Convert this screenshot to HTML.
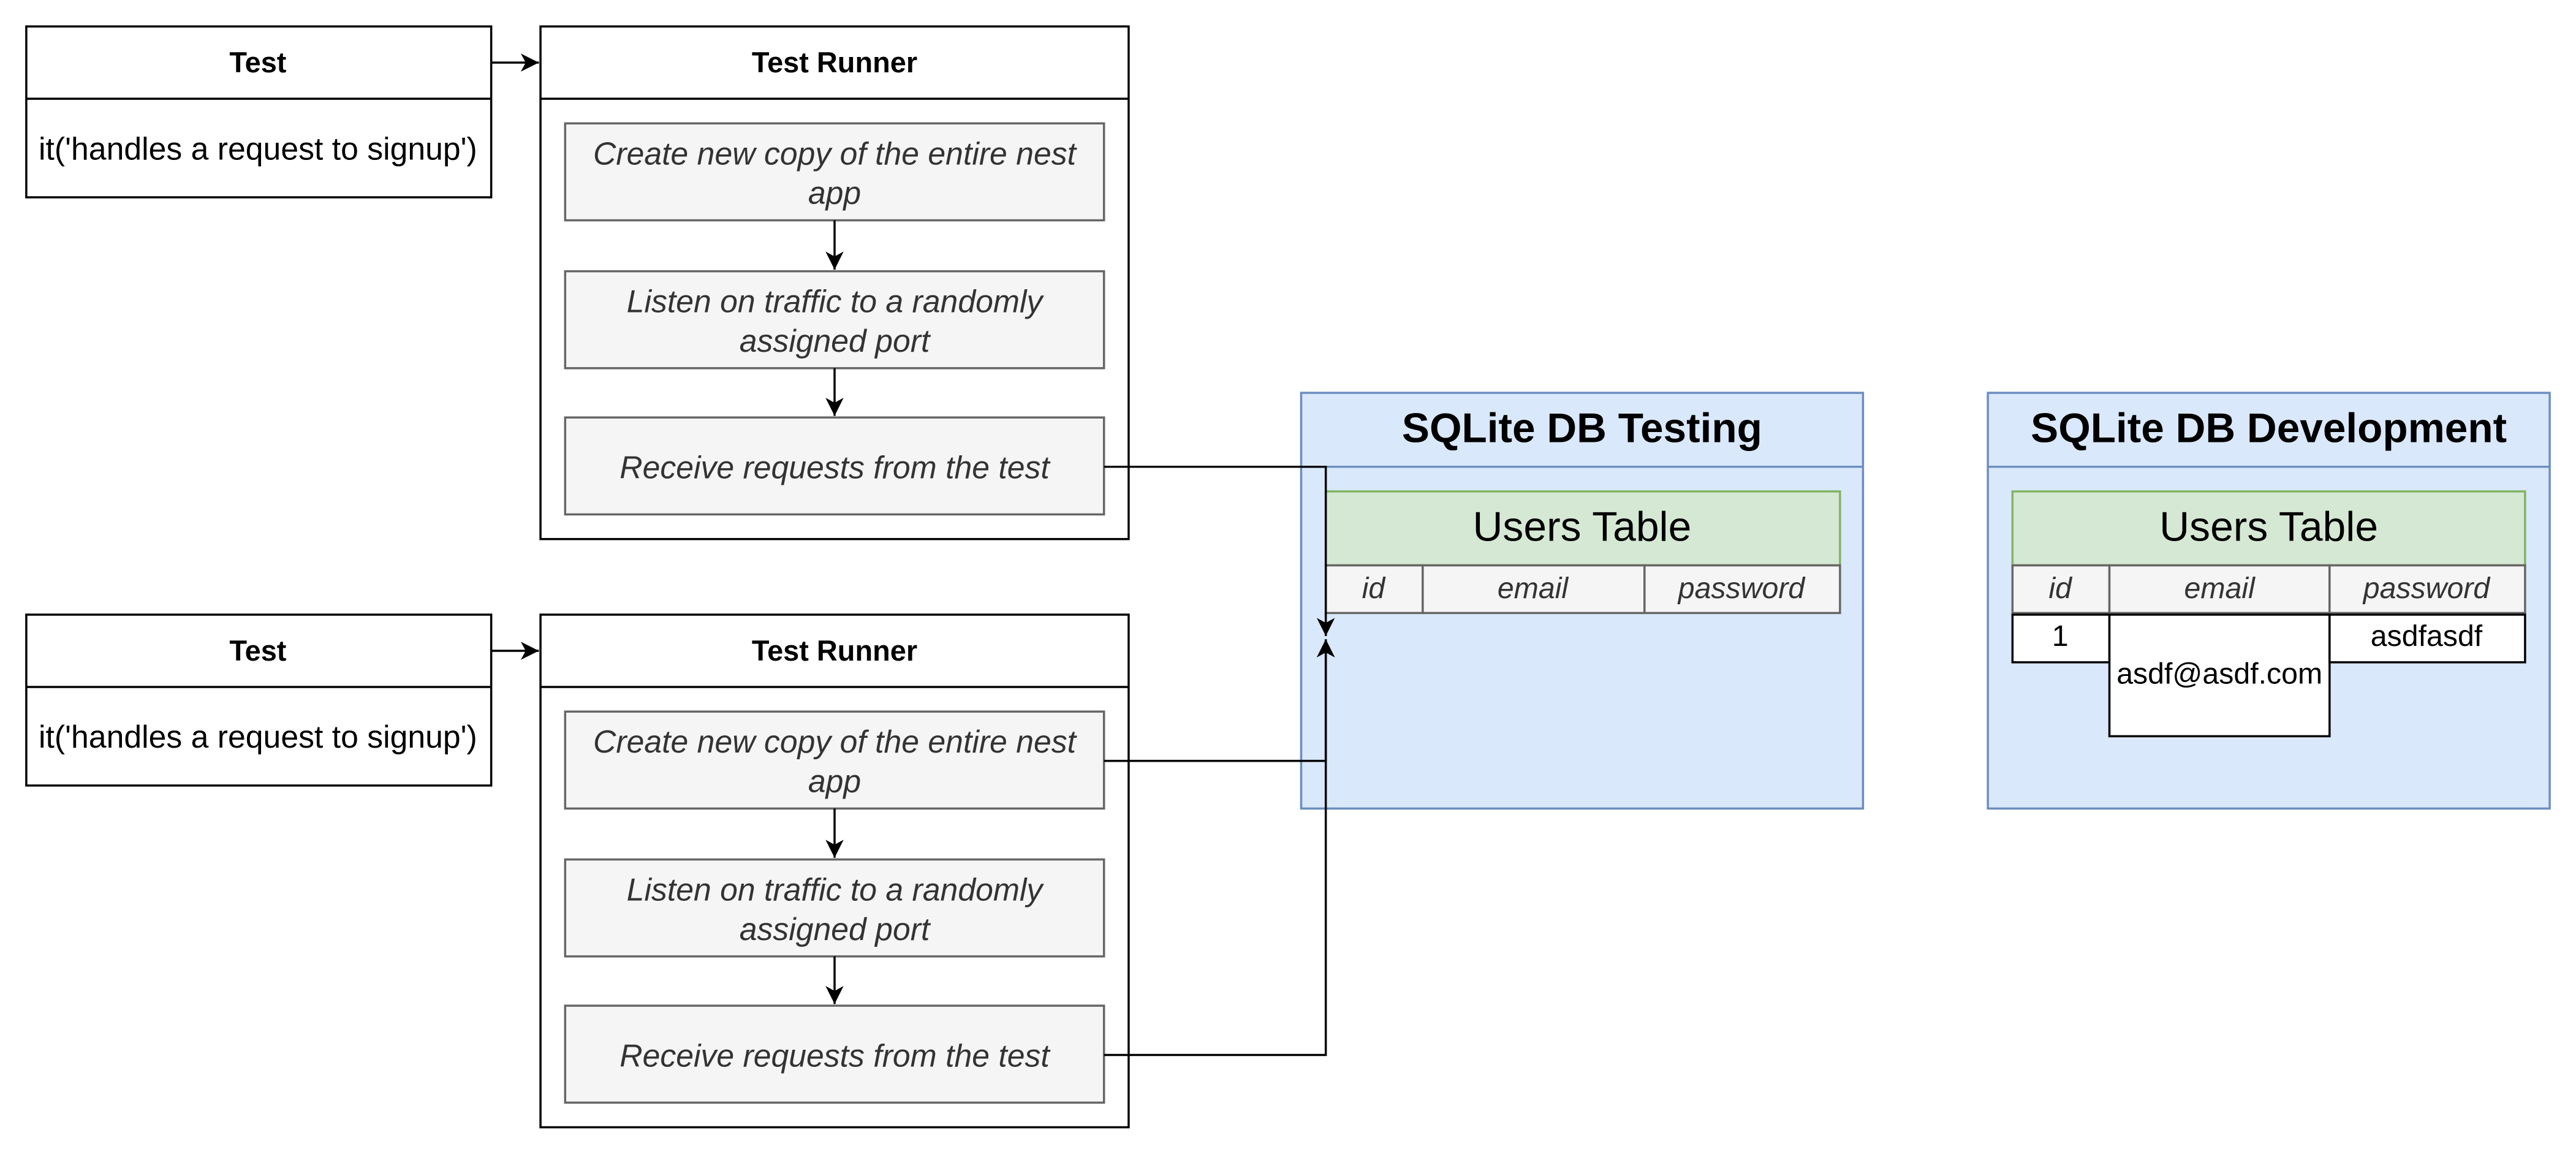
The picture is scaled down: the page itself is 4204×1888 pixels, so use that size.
<!DOCTYPE html>
<html><head><meta charset="utf-8"><style>
html,body{margin:0;padding:0;background:#fff;}
svg{display:block;}
text{font-family:"Liberation Sans",Arial,sans-serif;}
.b{font-weight:bold;}
.i{font-style:italic;fill:#333;}
</style></head><body>
<svg width="4204" height="1888" viewBox="0 0 1568 704" xmlns="http://www.w3.org/2000/svg">
<defs>
<marker id="a" markerWidth="12" markerHeight="12" refX="11" refY="5.5" orient="auto" markerUnits="userSpaceOnUse">
<path d="M0,0 L11,5.5 L0,11 L3,5.5 Z" fill="#000"/>
</marker>
</defs>
<rect width="1568" height="704" fill="#fff"/>

<g id="grp1">
<rect x="16" y="16" width="283" height="104" fill="#fff" stroke="#000" stroke-width="1.3"/>
<line x1="16" y1="60" x2="299" y2="60" stroke="#000" stroke-width="1.3"/>
<text x="157" y="44" text-anchor="middle" font-size="17.5" class="b">Test</text>
<text x="157" y="97" text-anchor="middle" font-size="19.3">it('handles a request to signup')</text>
<line x1="299" y1="38" x2="328" y2="38" stroke="#000" stroke-width="1.3" marker-end="url(#a)"/>
<rect x="329" y="16" width="358" height="312" fill="#fff" stroke="#000" stroke-width="1.3"/>
<line x1="329" y1="60" x2="687" y2="60" stroke="#000" stroke-width="1.3"/>
<text x="508" y="44" text-anchor="middle" font-size="17.5" class="b">Test Runner</text>
<rect x="344" y="75" width="328" height="59" fill="#f5f5f5" stroke="#666" stroke-width="1.3"/>
<text x="508" y="100" text-anchor="middle" font-size="19.3" class="i">Create new copy of the entire nest</text>
<text x="508" y="124" text-anchor="middle" font-size="19.3" class="i">app</text>
<line x1="508" y1="134" x2="508" y2="164" stroke="#000" stroke-width="1.3" marker-end="url(#a)"/>
<rect x="344" y="165" width="328" height="59" fill="#f5f5f5" stroke="#666" stroke-width="1.3"/>
<text x="508" y="190" text-anchor="middle" font-size="19.3" class="i">Listen on traffic to a randomly</text>
<text x="508" y="214" text-anchor="middle" font-size="19.3" class="i">assigned port</text>
<line x1="508" y1="224" x2="508" y2="253" stroke="#000" stroke-width="1.3" marker-end="url(#a)"/>
<rect x="344" y="254" width="328" height="59" fill="#f5f5f5" stroke="#666" stroke-width="1.3"/>
<text x="508" y="291" text-anchor="middle" font-size="19.3" class="i">Receive requests from the test</text>
</g>
<use href="#grp1" x="0" y="358"/>

<!-- DB Testing -->
<rect x="792" y="239" width="342" height="253" fill="#dae8fc" stroke="#6c8ebf" stroke-width="1.3"/>
<line x1="792" y1="284" x2="1134" y2="284" stroke="#6c8ebf" stroke-width="1.3"/>
<text x="963" y="269" text-anchor="middle" font-size="25.2" class="b">SQLite DB Testing</text>
<rect x="807" y="299" width="313" height="45" fill="#d5e8d4" stroke="#82b366" stroke-width="1.3"/>
<text x="963" y="329" text-anchor="middle" font-size="25.3">Users Table</text>
<rect x="807" y="344" width="59" height="29" fill="#f5f5f5" stroke="#666" stroke-width="1.3"/>
<rect x="866" y="344" width="135" height="29" fill="#f5f5f5" stroke="#666" stroke-width="1.3"/>
<rect x="1001" y="344" width="119" height="29" fill="#f5f5f5" stroke="#666" stroke-width="1.3"/>
<text x="836" y="364" text-anchor="middle" font-size="18" class="i">id</text>
<text x="933" y="364" text-anchor="middle" font-size="18" class="i">email</text>
<text x="1060" y="364" text-anchor="middle" font-size="18" class="i">password</text>

<!-- DB Development -->
<rect x="1210" y="239" width="342" height="253" fill="#dae8fc" stroke="#6c8ebf" stroke-width="1.3"/>
<line x1="1210" y1="284" x2="1552" y2="284" stroke="#6c8ebf" stroke-width="1.3"/>
<text x="1381" y="269" text-anchor="middle" font-size="25.2" class="b">SQLite DB Development</text>
<rect x="1225" y="299" width="312" height="45" fill="#d5e8d4" stroke="#82b366" stroke-width="1.3"/>
<text x="1381" y="329" text-anchor="middle" font-size="25.3">Users Table</text>
<rect x="1225" y="344" width="59" height="29" fill="#f5f5f5" stroke="#666" stroke-width="1.3"/>
<rect x="1284" y="344" width="134" height="29" fill="#f5f5f5" stroke="#666" stroke-width="1.3"/>
<rect x="1418" y="344" width="119" height="29" fill="#f5f5f5" stroke="#666" stroke-width="1.3"/>
<text x="1254" y="364" text-anchor="middle" font-size="18" class="i">id</text>
<text x="1351" y="364" text-anchor="middle" font-size="18" class="i">email</text>
<text x="1477" y="364" text-anchor="middle" font-size="18" class="i">password</text>
<rect x="1225" y="374" width="59" height="29" fill="#fff" stroke="#000" stroke-width="1.3"/>
<rect x="1284" y="374" width="134" height="74" fill="#fff" stroke="#000" stroke-width="1.3"/>
<rect x="1418" y="374" width="119" height="29" fill="#fff" stroke="#000" stroke-width="1.3"/>
<text x="1254" y="393" text-anchor="middle" font-size="18">1</text>
<text x="1351" y="416" text-anchor="middle" font-size="18">asdf@asdf.com</text>
<text x="1477" y="393" text-anchor="middle" font-size="18">asdfasdf</text>

<!-- connectors -->
<polyline points="672,284 807,284 807,387" fill="none" stroke="#000" stroke-width="1.3" marker-end="url(#a)"/>
<polyline points="672,463 807,463 807,389" fill="none" stroke="#000" stroke-width="1.3" marker-end="url(#a)"/>
<polyline points="672,642 807,642 807,389" fill="none" stroke="#000" stroke-width="1.3" marker-end="url(#a)"/>
</svg>
</body></html>
